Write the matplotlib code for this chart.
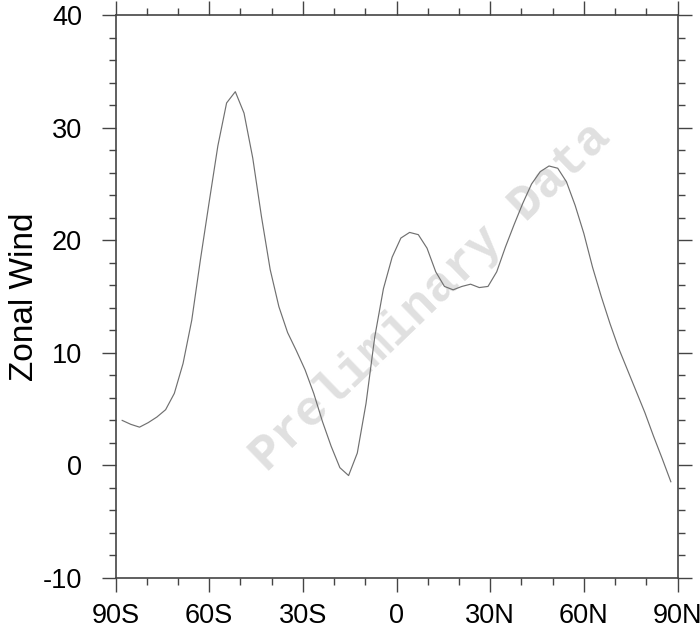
import numpy as np
import matplotlib
matplotlib.use("Agg")
import matplotlib.pyplot as plt
from matplotlib.ticker import MultipleLocator

plt.rcParams['font.family'] = ['Liberation Sans', 'DejaVu Sans']
plt.rcParams['axes.unicode_minus'] = False

# gaussian latitudes (T42)
lat = [-87.86, -85.10, -82.31, -79.53, -76.74, -73.95, -71.16, -68.37,
       -65.58, -62.79, -60.00, -57.21, -54.42, -51.63, -48.84, -46.04,
       -43.25, -40.46, -37.67, -34.88, -32.09, -29.30, -26.51, -23.72,
       -20.93, -18.14, -15.35, -12.56, -9.77, -6.98, -4.19, -1.40,
       1.40, 4.19, 6.98, 9.77, 12.56, 15.35, 18.14, 20.93,
       23.72, 26.51, 29.30, 32.09, 34.88, 37.67, 40.46, 43.25,
       46.04, 48.84, 51.63, 54.42, 57.21, 60.00, 62.79, 65.58,
       68.37, 71.16, 73.95, 76.74, 79.53, 82.31, 85.10, 87.86]

# zonal mean zonal wind
u = [4.0, 3.65, 3.4, 3.8, 4.3, 4.95, 6.4, 9.05,
     12.9, 18.3, 23.4, 28.4, 32.2, 33.2, 31.3, 27.3,
     22.1, 17.4, 14.1, 11.8, 10.2, 8.5, 6.4, 3.9,
     1.7, -0.2, -0.9, 1.1, 5.5, 11.4, 15.7, 18.5,
     20.2, 20.7, 20.5, 19.3, 17.2, 15.9, 15.6, 15.9,
     16.1, 15.8, 15.9, 17.2, 19.4, 21.4, 23.3, 25.0,
     26.1, 26.6, 26.4, 25.2, 23.1, 20.6, 17.6, 15.0,
     12.6, 10.4, 8.5, 6.6, 4.7, 2.6, 0.6, -1.45]

xticks = [-90, -60, -30, 0, 30, 60, 90]
xlabels = ['90S', '60S', '30S', '0', '30N', '60N', '90N']
yticks = [-10, 0, 10, 20, 30, 40]

fig = plt.figure(figsize=(7, 6.31), dpi=100)
ax = fig.add_axes([0.165, 0.084, 0.8029, 0.892])

ax.plot(lat, u, color='#707070', linewidth=0.85, zorder=3)

ax.set_xlim(-90, 90)
ax.set_ylim(-10, 40)
ax.set_xticks(xticks)
ax.set_xticklabels(xlabels)
ax.set_yticks(yticks)
ax.xaxis.set_minor_locator(MultipleLocator(10))
ax.yaxis.set_minor_locator(MultipleLocator(2))

ax.tick_params(which='both', direction='out', top=True, right=True,
               color='#444444', width=1.0)
ax.tick_params(which='major', length=10, labelsize=19.5)
ax.tick_params(axis='x', which='major', pad=8)
ax.tick_params(axis='y', which='major', pad=14)
ax.tick_params(which='minor', length=5)
for s in ax.spines.values():
    s.set_color('#444444')
    s.set_linewidth(1.2)

ax.set_ylabel('Zonal Wind', fontsize=24, labelpad=2)

# watermark
ax.text(0.56, 0.50, 'Preliminary Data', transform=ax.transAxes,
        ha='center', va='center', rotation=44, fontsize=36,
        family='Liberation Mono', fontweight='bold', color='#e0e0e0',
        zorder=1)

fig.savefig('out.png', dpi=100)
